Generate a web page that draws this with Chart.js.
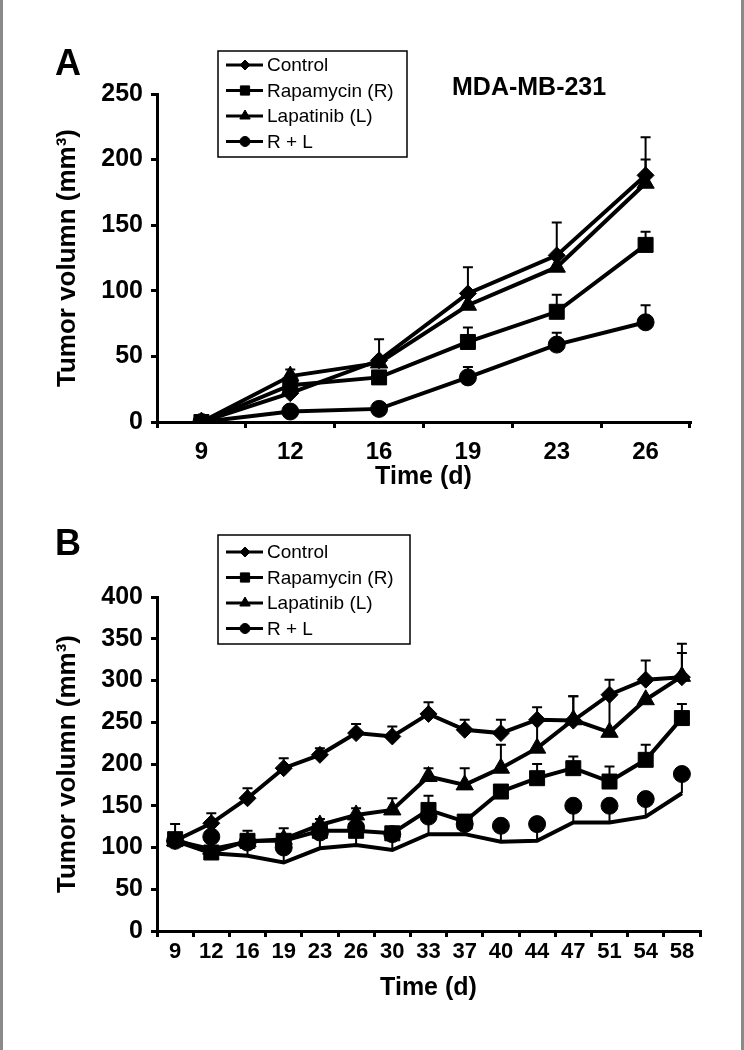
<!DOCTYPE html>
<html>
<head>
<meta charset="utf-8">
<script src="https://cdn.jsdelivr.net/npm/chart.js@4.4.0/dist/chart.umd.min.js"></script>
<style>
  body { margin: 0; background: #fff; }
  #page { position: relative; width: 744px; height: 1050px; overflow: hidden; background: #fff; }
  #page .edge { position: absolute; top: 0; width: 3px; height: 1050px; background: #8a8a8a; }
  canvas { position: absolute; left: 0; }
  .lbl { position: absolute; font-family: "Liberation Sans", Arial, sans-serif; font-weight: bold; line-height: 1; color: #000; white-space: nowrap; }
</style>
</head>
<body>
<div id="page">
  <div class="edge" style="left:0"></div>
  <div class="edge" style="left:741px"></div>
  <canvas id="chartA" width="744" height="510" style="top:0"></canvas>
  <canvas id="chartB" width="744" height="540" style="top:510px"></canvas>
  <div class="lbl" style="left:55px;top:45px;font-size:36px">A</div>
  <div class="lbl" style="left:452px;top:74px;font-size:25px">MDA-MB-231</div>
  <div class="lbl" style="left:55px;top:525px;font-size:36px">B</div>
</div>
<script>
const seriesNames = ["Control", "Rapamycin (R)", "Lapatinib (L)", "R + L"];

// panel A
const daysA = ["9", "12", "16", "19", "23", "26"];
const controlA = [0, 22, 47, 98, 127, 188];
const controlTopA = [null, null, 63, 118, 152, 217];
const rapA = [0, 28, 34, 61, 84, 135];
const rapTopA = [null, null, null, 72, 97, 145];
const lapA = [0, 35, 45, 89, 118, 182];
const lapTopA = [null, 40, null, null, null, 200];
const rlA = [0, 8, 10, 34, 59, 76];
const rlTopA = [null, null, null, 42, 68, 89];

// panel B
const daysB = ["9", "12", "16", "19", "23", "26", "30", "33", "37", "40", "44", "47", "51", "54", "58"];
const controlB = [108, 129, 159, 195, 211, 237, 233, 260, 241, 237, 253, 252, 283, 301, 304];
const controlTopB = [128, 141, 171, 207, 219, 248, 245, 274, 253, 253, 268, 281, 301, 324, 344];
const rapB = [110, 94, 108, 108, 120, 120, 117, 145, 131, 167, 183, 195, 179, 205, 255];
const rapTopB = [null, null, 120, 123, 134, null, null, 162, null, null, 200, 209, 197, 223, 272];
const lapB = [108, 98, 107, 110, 127, 139, 145, 185, 175, 195, 219, 253, 238, 277, 305];
const lapTopB = [null, null, null, null, null, 147, 159, 195, 195, 223, 253, 281, 283, null, 333];
const rlB = [108, 113, 106, 100, 118, 124, 116, 137, 128, 126, 128, 150, 150, 158, 188];
const rlLowB = [108, 93, 90, 82, 99, 103, 97, 116, 116, 107, 108, 130, 130, 137, 165];

const FONT = "'Liberation Sans', Arial, Helvetica, sans-serif";
const markerStyles = ["rectRot", "rect", "triangle", "circle"];
const markerSizes = [8.5, 10.6, 10, 8.5];
const legendSizes = [5, 6.5, 6, 5];

// vertical T bars up to errTop, plain stems down to stemTo
const errorBars = {
  id: "errorBars",
  afterDatasetsDraw(chart) {
    const ctx = chart.ctx;
    const yScale = chart.scales.y;
    ctx.save();
    ctx.strokeStyle = "#000";
    ctx.lineWidth = 2;
    chart.data.datasets.forEach((ds, i) => {
      const meta = chart.getDatasetMeta(i);
      meta.data.forEach((pt, j) => {
        if (ds.errTop && ds.errTop[j] != null) {
          const yt = yScale.getPixelForValue(ds.errTop[j]);
          ctx.beginPath();
          ctx.moveTo(pt.x, pt.y);
          ctx.lineTo(pt.x, yt);
          ctx.moveTo(pt.x - 5, yt);
          ctx.lineTo(pt.x + 5, yt);
          ctx.stroke();
        }
        if (ds.stemTo && ds.stemTo[j] != null) {
          const yb = yScale.getPixelForValue(ds.stemTo[j]);
          ctx.beginPath();
          ctx.moveTo(pt.x, pt.y);
          ctx.lineTo(pt.x, yb);
          ctx.stroke();
        }
      });
    });
    ctx.restore();
  },
};

const boxLegend = {
  id: "boxLegend",
  afterDraw(chart, args, opts) {
    const ctx = chart.ctx;
    ctx.save();
    ctx.strokeStyle = "#000";
    ctx.fillStyle = "#000";
    ctx.lineWidth = 1.5;
    ctx.strokeRect(opts.x, opts.y, opts.w, opts.h);
    ctx.font = "19px " + FONT;
    ctx.textBaseline = "middle";
    seriesNames.forEach((name, k) => {
      const cy = opts.y + opts.first + k * opts.row;
      ctx.lineWidth = 3;
      ctx.beginPath();
      ctx.moveTo(opts.x + 8, cy);
      ctx.lineTo(opts.x + 45, cy);
      ctx.stroke();
      ctx.lineWidth = 1;
      Chart.helpers.drawPoint(ctx, { pointStyle: markerStyles[k], radius: legendSizes[k], rotation: 0, borderWidth: 1 }, opts.x + 27, cy);
      ctx.fillText(name, opts.x + 49, cy + 1);
    });
    ctx.restore();
  },
};

function lineSet(k, data, top, extra) {
  return Object.assign({
    label: seriesNames[k],
    data: data,
    errTop: top,
    borderColor: "#000",
    backgroundColor: "#000",
    borderWidth: 4,
    pointStyle: markerStyles[k],
    pointRadius: markerSizes[k],
    pointBorderWidth: 1,
    tension: 0,
  }, extra || {});
}

function makeChart(id, labels, datasets, p) {
  const axisFont = { family: FONT, size: 25, weight: "bold" };
  return new Chart(document.getElementById(id), {
    type: "line",
    data: { labels: labels, datasets: datasets },
    options: {
      responsive: false,
      animation: false,
      devicePixelRatio: 1,
      layout: { padding: { left: 0, right: p.right, top: p.top, bottom: 0 } },
      plugins: {
        legend: { display: false },
        tooltip: { enabled: false },
        boxLegend: p.legend,
      },
      scales: {
        x: {
          type: "category",
          offset: true,
          grid: { drawOnChartArea: false, drawTicks: true, tickLength: 6, offset: true, color: "#000", lineWidth: 3 },
          border: { display: true, color: "#000", width: 3 },
          ticks: { color: "#000", font: { family: FONT, size: p.xTickSize, weight: "bold" }, padding: p.xPad, maxRotation: 0, autoSkip: false },
          title: { display: true, text: "Time (d)", color: "#000", font: axisFont, padding: { top: 0, bottom: p.xTitlePad } },
          afterFit(s) { s.height = p.xHeight; },
        },
        y: {
          min: 0,
          max: p.yMax,
          grid: { drawOnChartArea: false, drawTicks: true, tickLength: 6, color: "#000", lineWidth: 3 },
          border: { display: true, color: "#000", width: 3 },
          ticks: { stepSize: 50, color: "#000", font: axisFont, padding: 8 },
          title: { display: true, text: "Tumor volumn (mm³)", color: "#000", font: { family: FONT, size: 26, weight: "bold" }, padding: { top: 52, bottom: 0 } },
          afterFit(s) { s.width = 157; },
        },
      },
    },
    plugins: [errorBars, boxLegend],
  });
}

makeChart("chartA", daysA, [
  lineSet(0, controlA, controlTopA),
  lineSet(1, rapA, rapTopA),
  lineSet(2, lapA, lapTopA),
  lineSet(3, rlA, rlTopA),
], {
  right: 54, top: 94, xHeight: 88, xTickSize: 24, xPad: 10, xTitlePad: 18, yMax: 250,
  legend: { x: 218, y: 51, w: 189, h: 106, first: 14, row: 25.5 },
});

makeChart("chartB", daysB, [
  lineSet(0, controlB, controlTopB),
  lineSet(1, rapB, rapTopB),
  lineSet(2, lapB, lapTopB),
  lineSet(3, rlB, null, { showLine: false, stemTo: rlLowB }),
  { label: "R + L low", data: rlLowB, borderColor: "#000", borderWidth: 4, pointRadius: 0, tension: 0 },
], {
  right: 44, top: 87, xHeight: 119, xTickSize: 22, xPad: 2, xTitlePad: 47, yMax: 400,
  legend: { x: 218, y: 25, w: 192, h: 109, first: 17, row: 25.5 },
});
</script>
</body>
</html>
